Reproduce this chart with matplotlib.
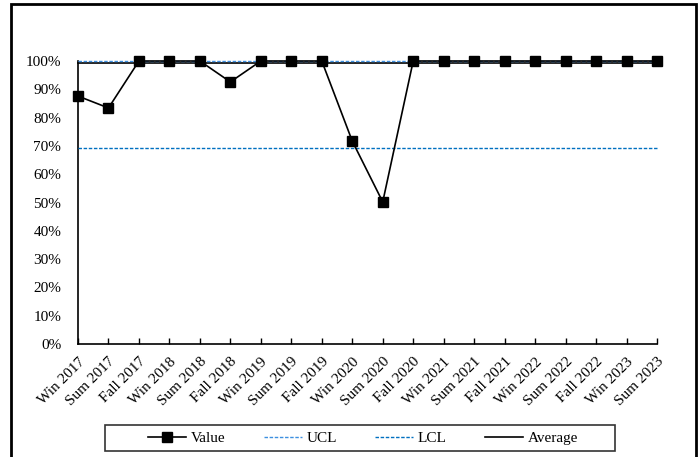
import matplotlib
matplotlib.use("Agg")
import matplotlib.pyplot as plt
from matplotlib.patches import Rectangle
from matplotlib.ticker import PercentFormatter

plt.rcParams['font.family'] = ['Liberation Serif', 'DejaVu Serif']

categories = ["Win 2017", "Sum 2017", "Fall 2017", "Win 2018", "Sum 2018", "Fall 2018",
              "Win 2019", "Sum 2019", "Fall 2019", "Win 2020", "Sum 2020", "Fall 2020",
              "Win 2021", "Sum 2021", "Fall 2021", "Win 2022", "Sum 2022", "Fall 2022",
              "Win 2023", "Sum 2023"]
values = [0.876, 0.834, 1.0, 1.0, 1.0, 0.926, 1.0, 1.0, 1.0, 0.717, 0.502, 1.0,
          1.0, 1.0, 1.0, 1.0, 1.0, 1.0, 1.0, 1.0]
ucl = [1.0] * len(categories)
lcl = [0.693] * len(categories)
average = [0.993] * len(categories)
yticks = [0, 0.1, 0.2, 0.3, 0.4, 0.5, 0.6, 0.7, 0.8, 0.9, 1.0]

fig = plt.figure(figsize=(6.99, 4.57), dpi=100)
ax = fig.add_axes([78/699, 1-344/457, (657-78)/699, (344-61)/457])

x = list(range(len(categories)))
ax.plot(x, average, color='black', lw=1.2, label='Average', zorder=2)
ax.plot(x, ucl, color='#3d8fe0', lw=1.0, ls=(0, (2.5, 1.2)), label='UCL', zorder=3)
ax.plot(x, lcl, color='#0070c0', lw=1.0, ls=(0, (2.5, 1.2)), label='LCL', zorder=3)
ax.plot(x, values, color='black', lw=1.2, marker='s', markersize=6.5, label='Value', zorder=4)

ax.set_xlim(0, len(categories) - 1)
ax.set_ylim(0, 1.0)
ax.set_yticks(yticks)
ax.yaxis.set_major_formatter(PercentFormatter(1.0, decimals=0))
ax.tick_params(axis='y', length=0, labelsize=11, pad=12)
ax.set_xticks(x)
ax.set_xticklabels(categories, rotation=45, ha='right', rotation_mode='anchor', fontsize=11)
ax.tick_params(axis='x', direction='in', length=4, width=1, pad=8)
for s in ['top', 'right']:
    ax.spines[s].set_visible(False)
for s in ['left', 'bottom']:
    ax.spines[s].set_linewidth(1.2)
for ln in ax.lines:
    ln.set_clip_on(False)

handles, labels = ax.get_legend_handles_labels()
order = ['Value', 'UCL', 'LCL', 'Average']
hmap = dict(zip(labels, handles))
leg = fig.legend([hmap[k] for k in order], order, loc='center',
                 bbox_to_anchor=((148+578)/2/699, 1-(425+451)/2/457),
                 ncol=4, frameon=False,
                 fontsize=11, handlelength=2.5, columnspacing=2.5, borderpad=0.0,
                 handletextpad=0.3, borderaxespad=0)

fig.patches.append(Rectangle((105/699, 1-451/457), (615-105)/699, 26/457,
                             transform=fig.transFigure, fill=False,
                             edgecolor='#333333', lw=1.2))
fig.patches.append(Rectangle((11/699, -0.05), (696-11)/699, 1.05 - 4/457,
                             transform=fig.transFigure, fill=False,
                             edgecolor='black', lw=2))

fig.savefig('out.png', dpi=100)
